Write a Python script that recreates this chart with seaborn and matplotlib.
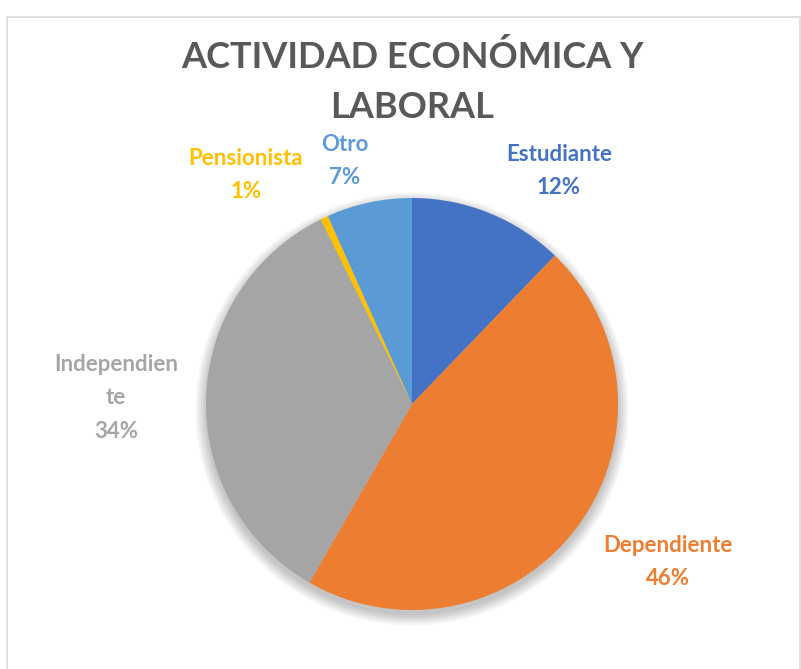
import matplotlib.pyplot as plt
from matplotlib.patches import Circle, Rectangle
import seaborn as sns

categories = ["Estudiante", "Dependiente", "Independiente", "Pensionista", "Otro"]
shares = [12.2, 46.1, 34.4, 0.6, 6.7]
colors = ["#4472C4", "#ED7D31", "#A5A5A5", "#FFC000", "#5B9BD5"]
label_texts = [
    "Estudiante\n12%",
    "Dependiente\n46%",
    "Independien\nte\n34%",
    "Pensionista\n1%",
    "Otro\n7%",
]
title = "ACTIVIDAD ECONÓMICA Y\nLABORAL"

sns.set_theme(style="white")
plt.rcParams["font.family"] = ["Lato", "DejaVu Sans"]

fig = plt.figure(figsize=(8.01, 6.69), dpi=100)
ax = fig.add_axes([0, 0, 1, 1])

# chart frame
ax.add_patch(Rectangle((7, -5), 793, 657, fill=False, edgecolor="#d9d9d9", lw=1.2))

cx, cy, r = 412, 265, 206

# soft shadow under the pie
for k in range(10):
    ax.add_patch(Circle((cx, cy - 5), r + k * 1.2, color="black", alpha=0.025, lw=0, zorder=1))

ax.pie(
    shares,
    colors=colors,
    startangle=90,
    counterclock=False,
    center=(cx, cy),
    radius=r,
    wedgeprops=dict(linewidth=0),
    frame=True,
)
ax.set_xlim(0, 801)
ax.set_ylim(0, 669)
ax.set_aspect("equal")
ax.axis("off")

label_pos = [(559, 498), (668, 107), (116, 271), (246, 494), (345, 508)]
for txt, (x, y), c in zip(label_texts, label_pos, colors):
    ax.text(x, y, txt, color=c, ha="center", va="center", fontsize=16,
            fontweight="bold", linespacing=1.75)

ax.text(412, 587, title, color="#595959", ha="center", va="center",
        fontsize=26, fontweight="bold", linespacing=1.6)

fig.savefig("out.png", dpi=100)
